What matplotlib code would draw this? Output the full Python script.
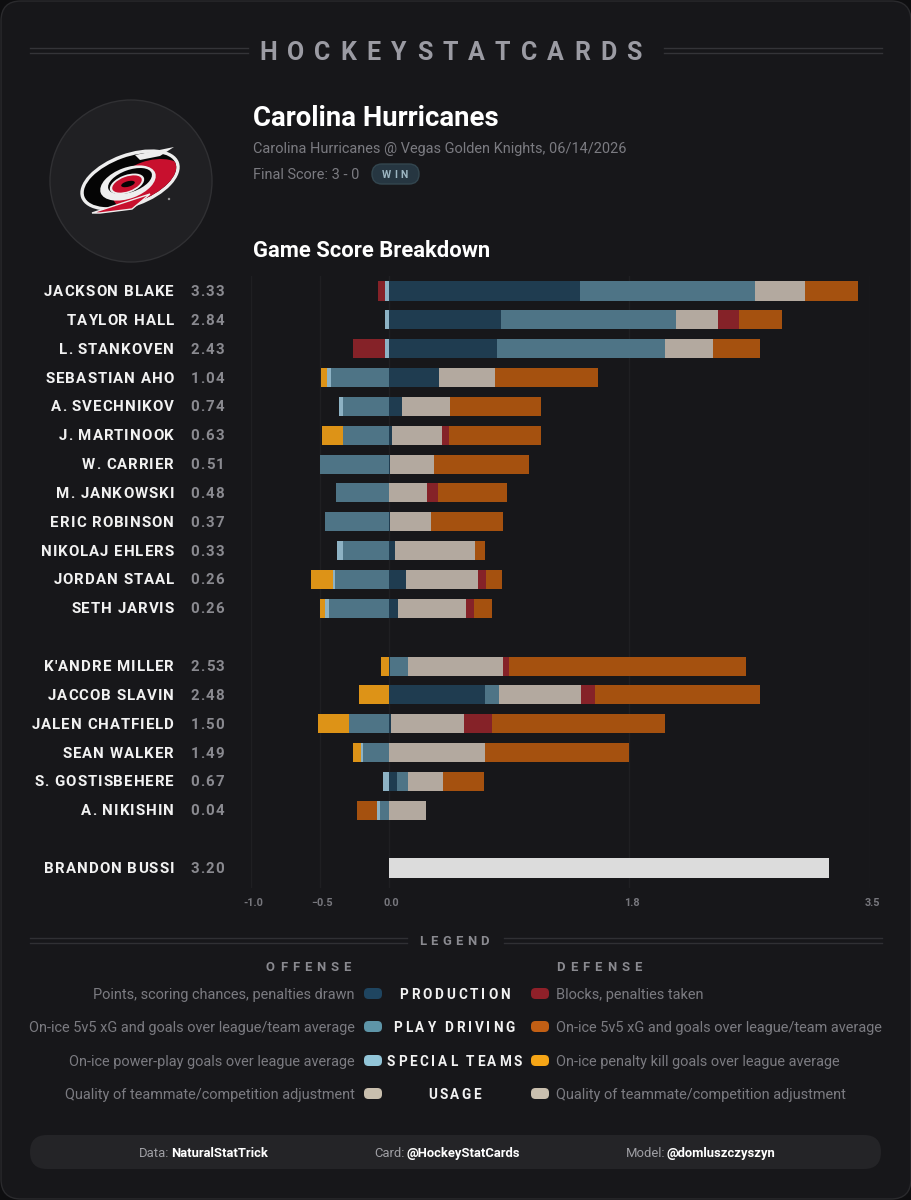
import matplotlib
matplotlib.use('Agg')

import matplotlib.pyplot as plt
import matplotlib.transforms as mtrans
import numpy as np
from matplotlib.patches import Circle, Ellipse, FancyBboxPatch, Polygon

# player rows, forwards / defense / goalie
names = ['JACKSON BLAKE', 'TAYLOR HALL', 'L. STANKOVEN', 'SEBASTIAN AHO', 'A. SVECHNIKOV',
         'J. MARTINOOK', 'W. CARRIER', 'M. JANKOWSKI', 'ERIC ROBINSON', 'NIKOLAJ EHLERS',
         'JORDAN STAAL', 'SETH JARVIS',
         "K'ANDRE MILLER", 'JACCOB SLAVIN', 'JALEN CHATFIELD', 'SEAN WALKER', 'S. GOSTISBEHERE',
         'A. NIKISHIN', 'BRANDON BUSSI']
scores = ['3.33', '2.84', '2.43', '1.04', '0.74', '0.63', '0.51', '0.48', '0.37', '0.33', '0.26', '0.26',
          '2.53', '2.48', '1.50', '1.49', '0.67', '0.04', '3.20']
slots = [0, 1, 2, 3, 4, 5, 6, 7, 8, 9, 10, 11, 13, 14, 15, 16, 17, 18, 20]

production = [1.39, 0.817, 0.785, 0.366, 0.097, 0.024, 0.007, 0, 0.007, 0.046, 0.126, 0.068,
              0.01, 0.698, 0.017, 0, 0.058, 0]
play_driving = [1.27, 1.27, 1.224, -0.42, -0.335, -0.335, -0.504, -0.383, -0.465, -0.335, -0.393, -0.434,
                0.128, 0.102, -0.292, -0.192, 0.078, -0.065]
special_teams = [-0.03, -0.03, -0.03, -0.034, -0.03, 0, 0, 0, 0, -0.042, -0.017, -0.03,
                 0, 0, 0, -0.012, -0.042, -0.02]
usage = [0.366, 0.31, 0.346, 0.403, 0.347, 0.364, 0.318, 0.276, 0.298, 0.58, 0.522, 0.49,
         0.69, 0.596, 0.528, 0.696, 0.259, 0.27]
blocks = [-0.053, 0.15, -0.235, 0, 0, 0.049, 0, 0.08, 0, 0, 0.058, 0.06,
          0.049, 0.102, 0.203, 0, 0, 0]
def_driving = [0.39, 0.313, 0.344, 0.75, 0.662, 0.67, 0.693, 0.5, 0.522, 0.073, 0.114, 0.131,
               1.722, 1.2, 1.258, 1.05, 0.3, -0.148]
penalty_kill = [0, 0, 0, -0.04, 0, -0.15, 0, 0, 0, 0, -0.156, -0.04,
                -0.058, -0.22, -0.223, -0.06, 0, 0]
goalie = [3.2]

tick_vals = [-1.0, -0.5, 0.0, 1.75, 3.5]
tick_labels = ['-1.0', '\u22120.5', '0.0', '1.8', '3.5']

legend_rows = ['PRODUCTION', 'PLAY DRIVING', 'SPECIAL TEAMS', 'USAGE']
legend_off = ['Points, scoring chances, penalties drawn', 'On-ice 5v5 xG and goals over league/team average',
              'On-ice power-play goals over league average', 'Quality of teammate/competition adjustment']
legend_def = ['Blocks, penalties taken', 'On-ice 5v5 xG and goals over league/team average',
              'On-ice penalty kill goals over league average', 'Quality of teammate/competition adjustment']

series = [production, play_driving, special_teams, usage, blocks, def_driving, penalty_kill]
bar_colors = ['#1f3c50', '#4e7486', '#8db2c4', '#b3a99f', '#852228', '#a5510f', '#dd9317']
off_dots = ['#1f4560', '#5e95a8', '#92c5d8', '#c9bfae']
def_dots = ['#8f2029', '#c25f14', '#f5a516', '#c9bfae']

BG = '#17171a'
FONT = 'Roboto'

fig = plt.figure(figsize=(9.12, 12), dpi=100, facecolor='#0e0e10')
bg = fig.add_axes([0, 0, 1, 1])
bg.set_xlim(0, 912)
bg.set_ylim(1200, 0)
bg.axis('off')
renderer = fig.canvas.get_renderer()


def T(x, y, s, size, color, weight='normal', ha='left'):
    # size in px, y is the baseline
    return bg.text(x, y, s, fontsize=size * 0.72, color=color, fontweight=weight, ha=ha, va='baseline',
                   family=FONT, zorder=5)


def adv(s, size, weight):
    t = bg.text(0, 0, s, fontsize=size * 0.72, fontweight=weight, family=FONT)
    w = t.get_window_extent(renderer).width
    t.remove()
    return w


def spaced(x0, x1, y, s, size, color, weight='bold'):
    # letterspaced text running from x0 to x1
    gap = (x1 - x0 - adv(s, size, weight)) / (len(s) - 1)
    for i, ch in enumerate(s):
        if ch != ' ':
            T(x0 + adv(s[:i + 1], size, weight) - adv(ch, size, weight) + gap * i, y, ch, size, color, weight)


def spaced_right(x1, y, s, size, color, gap, weight='bold'):
    w = adv(s, size, weight) + gap * (len(s) - 1)
    spaced(x1 - w, x1, y, s, size, color, weight)


def rrect(x0, y0, x1, y1, r, fc, ec='none', z=1):
    bg.add_patch(FancyBboxPatch((x0 + r, y0 + r), x1 - x0 - 2 * r, y1 - y0 - 2 * r,
                                boxstyle='round,pad=%g,rounding_size=%g' % (r, r),
                                fc=fc, ec=ec, lw=1, zorder=z))


# card
rrect(1, 1, 911, 1199, 20, BG, '#2a2a2d', 0)

# header
for yy in (47.5, 52.5):
    bg.plot([30, 248], [yy, yy], color='#343438', lw=1)
    bg.plot([664, 882], [yy, yy], color='#343438', lw=1)
spaced(259, 642, 60, 'HOCKEYSTATCARDS', 25, '#9b9ba3', 'bold')

# logo
bg.add_patch(Circle((131, 181), 81, fc='#202023', ec='#303033', lw=1))
bg.add_patch(Ellipse((130, 180), 104, 53, angle=-20, fc='#eeeeee', ec='none', zorder=2))
outer = Ellipse((130, 180), 97, 46, angle=-20, fc='#050505', ec='none', zorder=3)
bg.add_patch(outer)
red = Ellipse((150, 186), 78, 50, angle=-20, fc='#c8102e', ec='none', zorder=3)
bg.add_patch(red)
red.set_clip_path(outer)
bg.add_patch(Polygon([[135, 155], [174, 147], [160, 156], [140, 160]], fc='#eeeeee', ec='none', zorder=3))
bg.add_patch(Polygon([[92, 213], [150, 194], [132, 209], [100, 213]], fc='#c8102e', ec='#eeeeee', lw=1, zorder=3))
bg.add_patch(Ellipse((128, 183), 58, 31, angle=-20, fc='#eeeeee', ec='none', zorder=4))
bg.add_patch(Ellipse((130, 181), 46, 22, angle=-20, fc='#050505', ec='none', zorder=4))
bg.add_patch(Ellipse((127, 184), 36, 18, angle=-20, fc='#eeeeee', ec='none', zorder=4))
bg.add_patch(Ellipse((127, 184), 31, 14.5, angle=-20, fc='#c8102e', ec='none', zorder=4))
bg.add_patch(Ellipse((128, 184), 14, 5.5, angle=-15, fc='#050505', ec='none', zorder=4))
bg.add_patch(Circle((169, 199), 1.2, fc='#999999', ec='none', zorder=4))

# team block
T(253, 126, 'Carolina Hurricanes', 27.5, 'white', 'bold')
T(253, 153, 'Carolina Hurricanes @ Vegas Golden Knights, 06/14/2026', 14.5, '#7b7b81')
T(253, 179, 'Final Score: 3 - 0', 14.5, '#7b7b81')
rrect(372, 164, 419, 184, 10, '#263641', '#33464f', 2)
spaced(382, 408, 178, 'WIN', 10.5, '#9db6c2', 'bold')
T(253, 257, 'Game Score Breakdown', 22, 'white', 'bold')

# chart axes, x scale 137.5 px per unit
top, bottom = 276.4, 888.0
ax = fig.add_axes([251.5 / 912, 1 - bottom / 1200, (870 - 251.5) / 912, (bottom - top) / 1200], zorder=2)
ax.patch.set_visible(False)
ax.set_xlim(-1.0, 3.5)
ax.set_ylim((bottom - 291) / 28.85, (top - 291) / 28.85)
ax.set_xticks(tick_vals)
ax.set_xticklabels(tick_labels, fontsize=7.8, color='#77777d', fontweight='bold', family=FONT)
ax.tick_params(axis='x', length=0, pad=7)
# labels sit a little right of their gridlines in the card
shift = mtrans.ScaledTranslation(2 / 100, 0, fig.dpi_scale_trans)
for lab in ax.get_xticklabels():
    lab.set_transform(lab.get_transform() + shift)
ax.set_yticks([])
for s in ax.spines.values():
    s.set_visible(False)
ax.set_axisbelow(True)
ax.grid(axis='x', color='#1f1f22', lw=1)

for i in range(len(production)):
    pos = 0.0
    neg = 0.0
    for vals, col in zip(series, bar_colors):
        v = vals[i]
        if v > 0:
            ax.barh(slots[i], v, left=pos, height=0.66, color=col, lw=0)
            pos += v
        elif v < 0:
            ax.barh(slots[i], v, left=neg, height=0.66, color=col, lw=0)
            neg += v
ax.barh(slots[-1], goalie[0], left=0, height=0.66, color='#dcdcdc', lw=0)

# player names and game scores
for name, score, s in zip(names, scores, slots):
    yy = 291 + 28.85 * s + 5
    spaced_right(174, yy, name, 15, '#f2f2f2', 1.0, 'bold')
    spaced_right(224, yy, score, 15, '#8a8a90', 1.0, 'bold')

# legend
for yy in (937.5, 942.5):
    bg.plot([30, 407], [yy, yy], color='#303034', lw=1)
    bg.plot([504, 882], [yy, yy], color='#303034', lw=1)
spaced(419, 489, 945, 'LEGEND', 13, '#8a8a90', 'bold')
spaced(266, 351, 971, 'OFFENSE', 13, '#8a8a90', 'bold')
spaced(556, 642, 971, 'DEFENSE', 13, '#8a8a90', 'bold')

row_y = [994, 1027, 1061, 1094]
row_x = [(399, 510), (393, 515), (387, 522), (428, 481)]
for i in range(4):
    yy = row_y[i]
    T(355, yy + 5, legend_off[i], 14.5, '#7b7b81', ha='right')
    T(556, yy + 5, legend_def[i], 14.5, '#7b7b81')
    rrect(364, yy - 6, 382, yy + 5, 4.5, off_dots[i], z=2)
    rrect(531, yy - 6, 549, yy + 5, 4.5, def_dots[i], z=2)
    spaced(row_x[i][0], row_x[i][1], yy + 5, legend_rows[i], 13.5, '#f2f2f2', 'bold')

# footer
rrect(30, 1135, 881, 1169, 17, '#242427', z=1)
T(139, 1157, 'Data:', 13, '#a0a0a5')
T(171, 1157, 'NaturalStatTrick', 13, 'white', 'bold')
T(374, 1157, 'Card:', 13, '#a0a0a5')
T(407, 1157, '@HockeyStatCards', 13, 'white', 'bold')
T(626, 1157, 'Model:', 13, '#a0a0a5')
T(667, 1157, '@domluszczyszyn', 13, 'white', 'bold')

fig.savefig('out.png', dpi=100, facecolor=fig.get_facecolor())
